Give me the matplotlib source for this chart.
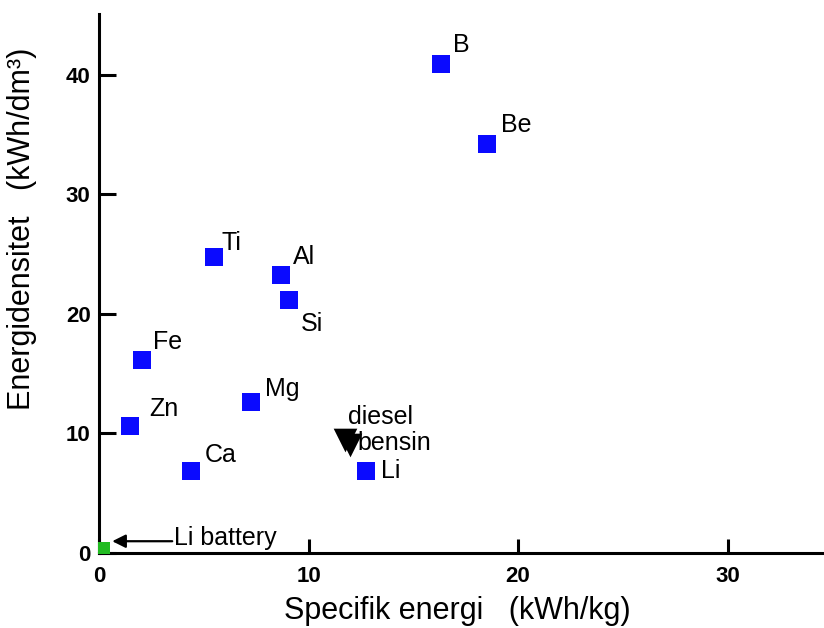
import matplotlib
matplotlib.use("Agg")
import matplotlib.pyplot as plt
from matplotlib.transforms import offset_copy

plt.rcParams['font.family'] = ['Liberation Sans', 'DejaVu Sans']

# Data (specific energy kWh/kg, energy density kWh/dm3)
elements = ["B", "Be", "Ti", "Al", "Si", "Fe", "Mg", "Zn", "Ca", "Li"]
spec_energy = [16.3, 18.5, 5.5, 8.7, 9.05, 2.05, 7.25, 1.5, 4.4, 12.75]
energy_dens = [40.9, 34.2, 24.8, 23.3, 21.2, 16.15, 12.6, 10.6, 6.85, 6.85]

fuels = ["diesel", "bensin"]
fuel_spec = [11.75, 11.98]
fuel_dens = [9.45, 9.05]

battery_name = "Li battery"
battery_spec = [0.25]
battery_dens = [0.4]

x_ticks = [0, 10, 20, 30]
y_ticks = [0, 10, 20, 30, 40]

# label offsets in pixels (dx, dy)
offsets = {"B": (12, 12), "Be": (14, 12), "Ti": (7, 7), "Al": (12, 11),
           "Si": (12, -31), "Fe": (11, 11), "Mg": (14, 6), "Zn": (19, 10),
           "Ca": (14, 9), "Li": (15, -7)}

fig = plt.figure(figsize=(8.24, 6.28), dpi=100)
ax = fig.add_axes([99/824, 75/628, 1 - 99/824, (553-14)/628])
ax.set_xlim(0, 34.6)
ax.set_ylim(0, 45.1)

for s in ['top', 'right']:
    ax.spines[s].set_visible(False)
for s in ['left', 'bottom']:
    ax.spines[s].set_linewidth(2.2)
    ax.spines[s].set_color('black')

ax.scatter(spec_energy, energy_dens, marker='s', s=150, color='#0a0aff',
           linewidths=0, zorder=3)
ax.scatter(fuel_spec, fuel_dens, marker='v', s=290, color='black',
           linewidths=0, zorder=3)
ax.scatter(battery_spec, battery_dens, marker='s', s=70, color='#22bb22',
           linewidths=0, zorder=4, clip_on=False)

fs = 18
for name, xv, yv in zip(elements, spec_energy, energy_dens):
    dx, dy = offsets[name]
    ax.annotate(name, (xv, yv), xytext=(dx, dy), textcoords='offset pixels',
                fontsize=fs, ha='left', va='baseline')

ax.annotate(fuels[0], (fuel_spec[0], fuel_dens[0]), xytext=(3, 16),
            textcoords='offset pixels', fontsize=fs, ha='left', va='baseline')
ax.annotate(fuels[1], (fuel_spec[1], fuel_dens[1]), xytext=(7, -5),
            textcoords='offset pixels', fontsize=fs, ha='left', va='baseline')

ax.annotate(battery_name, (battery_spec[0], battery_dens[0]),
            xytext=(70, 3), textcoords='offset pixels',
            fontsize=fs, ha='left', va='baseline')
tip = offset_copy(ax.transData, fig=fig, x=8, y=7, units='dots')
tail = offset_copy(ax.transData, fig=fig, x=68, y=7, units='dots')
ax.annotate("", xy=(battery_spec[0], battery_dens[0]), xycoords=tip,
            xytext=(battery_spec[0], battery_dens[0]), textcoords=tail,
            arrowprops=dict(arrowstyle='-|>', color='black', lw=1.6,
                            shrinkA=0, shrinkB=0, mutation_scale=20))

ax.set_xticks(x_ticks)
ax.set_yticks(y_ticks)
ax.tick_params(axis='y', direction='in', length=12, width=2.2, pad=6,
               labelsize=16)
ax.tick_params(axis='x', direction='in', length=10, width=2.2, pad=9,
               labelsize=16)
for lab in ax.get_xticklabels() + ax.get_yticklabels():
    lab.set_fontweight('bold')

fig.text(457/824, 1 - 611/628, "Specifik energi   (kWh/kg)", fontsize=22,
         ha='center', va='center')
fig.text(22/824, 1 - 229/628, "Energidensitet   (kWh/dm³)", fontsize=22,
         ha='center', va='center', rotation=90)

fig.savefig("out.png", dpi=100)
